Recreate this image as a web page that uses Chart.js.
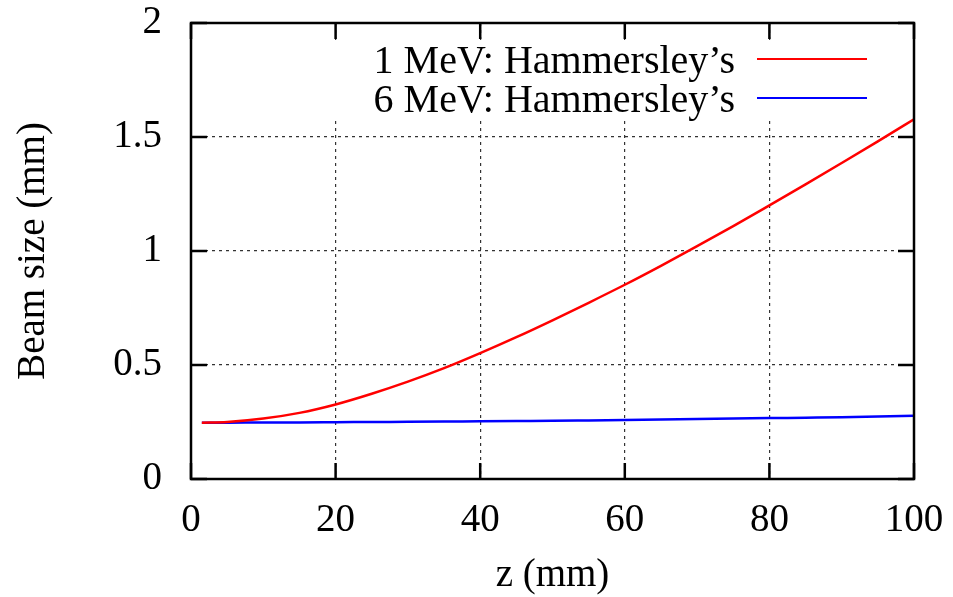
<!DOCTYPE html>
<html>
<head>
<meta charset="utf-8">
<script src="https://cdn.jsdelivr.net/npm/chart.js@4.4.1/dist/chart.umd.min.js"></script>
<style>
  html, body { margin: 0; padding: 0; background: #fff; }
  #wrap { width: 953px; height: 597px; }
</style>
</head>
<body>
<div id="wrap"><canvas id="beam"></canvas></div>
<script>
// beam size along z, read at these positions (mm)
const zPos = [1.5, 5, 10, 15, 20, 25, 30, 35, 40, 45, 50, 55, 60, 65, 70, 75, 80, 85, 90, 95, 100];
const size1MeV = [0.247, 0.250, 0.265, 0.290, 0.327, 0.374, 0.427, 0.486, 0.552, 0.622, 0.696, 0.773, 0.852, 0.935, 1.021, 1.109, 1.200, 1.292, 1.386, 1.481, 1.578];
const size6MeV = [0.247, 0.247, 0.248, 0.248, 0.249, 0.250, 0.251, 0.252, 0.253, 0.254, 0.255, 0.257, 0.259, 0.261, 0.263, 0.265, 0.267, 0.269, 0.271, 0.274, 0.277];
const seriesLabels = ["1 MeV: Hammersley\u2019s", "6 MeV: Hammersley\u2019s"];
const xTicks = [0, 20, 40, 60, 80, 100];
const yTicks = [0, 0.5, 1, 1.5, 2];
const yTickLabels = ['0', '0.5', '1', '1.5', '2'];

const FONT = 'Liberation Serif, Times New Roman, serif';

function pts(ys) {
    return zPos.map((z, i) => ({ x: z, y: ys[i] }));
}

// frame, inward tick marks on all four sides, and the key
const framePlugin = {
    id: 'frame',
    beforeDatasetsDraw(chart) {
        // key area hides the grid behind it
        const ctx = chart.ctx;
        ctx.save();
        ctx.fillStyle = '#fff';
        ctx.fillRect(330, 40, 584, 80);
        ctx.restore();
    },
    afterDraw(chart) {
        const { ctx, chartArea: a, scales } = chart;
        ctx.save();
        ctx.strokeStyle = '#000';
        ctx.lineWidth = 2.5;
        const len = 16;
        ctx.beginPath();
        xTicks.forEach(v => {
            const px = scales.x.getPixelForValue(v);
            ctx.moveTo(px, a.bottom); ctx.lineTo(px, a.bottom - len);
            ctx.moveTo(px, a.top); ctx.lineTo(px, a.top + len);
        });
        yTicks.forEach(v => {
            const py = scales.y.getPixelForValue(v);
            ctx.moveTo(a.left, py); ctx.lineTo(a.left + len, py);
            ctx.moveTo(a.right, py); ctx.lineTo(a.right - len, py);
        });
        ctx.stroke();
        ctx.strokeRect(a.left, a.top, a.right - a.left, a.bottom - a.top);

        // key: text right-aligned, line sample on the right
        ctx.font = '40px ' + FONT;
        ctx.textAlign = 'right';
        ctx.textBaseline = 'middle';
        chart.data.datasets.forEach((ds, i) => {
            const y = 59 + i * 39;
            ctx.fillStyle = '#000';
            ctx.fillText(ds.label, 735, y + 3);
            ctx.strokeStyle = ds.borderColor;
            ctx.lineWidth = 2;
            ctx.beginPath();
            ctx.moveTo(757, y); ctx.lineTo(867, y);
            ctx.stroke();
        });
        ctx.restore();
    }
};

const gridColor = ctx => (ctx.index === 0 || ctx.index === ctx.scale.ticks.length - 1) ? 'rgba(0,0,0,0)' : '#333';

new Chart(document.getElementById('beam'), {
    type: 'line',
    data: {
        datasets: [
            { label: seriesLabels[0], data: pts(size1MeV), borderColor: '#ff0000', borderWidth: 2.5, pointRadius: 0, cubicInterpolationMode: 'monotone' },
            { label: seriesLabels[1], data: pts(size6MeV), borderColor: '#0000ff', borderWidth: 2.5, pointRadius: 0, cubicInterpolationMode: 'monotone' }
        ]
    },
    options: {
        responsive: true,
        maintainAspectRatio: false,
        animation: false,
        layout: { padding: { top: 23, right: 39, left: 0, bottom: 0 } },
        plugins: { legend: { display: false }, tooltip: { enabled: false } },
        scales: {
            x: {
                type: 'linear', min: 0, max: 100,
                afterBuildTicks: s => { s.ticks = xTicks.map(v => ({ value: v })); },
                afterFit: s => { s.height = 118; s.paddingLeft = 0; s.paddingRight = 0; },
                border: { display: false, dash: [3, 4] },
                grid: { color: gridColor, lineWidth: 1.2, drawTicks: false },
                ticks: { color: '#000', font: { family: FONT, size: 39 }, padding: 18, maxRotation: 0 },
                title: { display: true, text: 'z (mm)', color: '#000', font: { family: FONT, size: 39, lineHeight: 1.1 }, padding: { top: 0, bottom: 0 } }
            },
            y: {
                type: 'linear', min: 0, max: 2,
                afterBuildTicks: s => { s.ticks = yTicks.map(v => ({ value: v })); },
                afterFit: s => { s.width = 191; s.paddingTop = 0; s.paddingBottom = 0; },
                border: { display: false, dash: [3, 4] },
                grid: { color: gridColor, lineWidth: 1.2, drawTicks: false },
                ticks: { color: '#000', font: { family: FONT, size: 39 }, padding: 29, callback: (v, i) => yTickLabels[i] },
                title: { display: true, text: 'Beam size (mm)', color: '#000', font: { family: FONT, size: 39, lineHeight: 1.1 }, padding: { top: 12, bottom: 0 } }
            }
        }
    },
    plugins: [framePlugin]
});
</script>
</body>
</html>
